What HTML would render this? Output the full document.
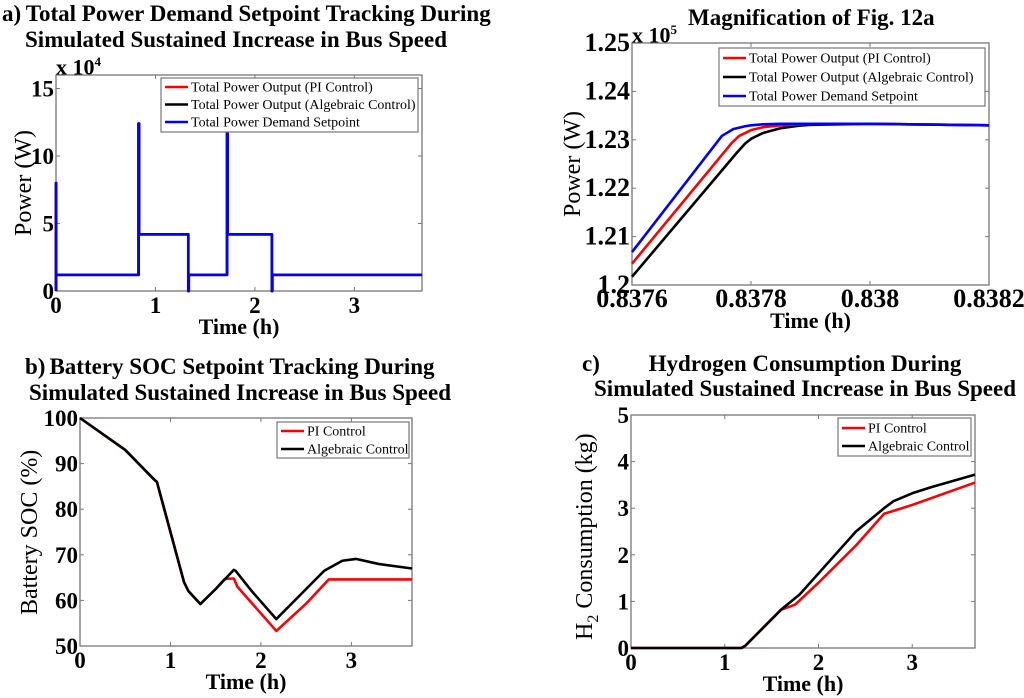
<!DOCTYPE html>
<html><head><meta charset="utf-8">
<style>
html,body{margin:0;padding:0;background:#fff;}
body{position:relative;width:1024px;height:698px;overflow:hidden;font-family:"Liberation Serif","Times New Roman",Times,serif;}
svg{display:block;position:absolute;left:0;top:0;}
svg text{font-family:"Liberation Serif","Times New Roman",Times,serif;}
.b{font-weight:bold;fill:#000;}
.t{font-size:22px;}
.tk{font-size:23px;}
.tkm{font-size:26px;}
.lg{font-size:14px;fill:#000;}
.h{position:absolute;font-weight:bold;font-size:23px;white-space:nowrap;line-height:1;color:#000;}
.ya{position:absolute;font-size:24px;white-space:nowrap;line-height:1;transform-origin:0 0;transform:rotate(-90deg);}
</style></head>
<body>
<svg id="s" width="1024" height="698" viewBox="0 0 1024 698" xmlns="http://www.w3.org/2000/svg"></svg>
<script>
// Panel a: power step
const aT=[0,0,0.001,0.001,0.83,0.83,0.835,0.835,1.33,1.33,1.335,1.335,1.72,1.72,1.725,1.725,2.17,2.17,2.175,2.175,3.68];
const aV=[0,8,8,1.2,1.2,12.4,12.4,4.2,4.2,0,0,1.2,1.2,11.8,11.8,4.2,4.2,0,0,1.2,1.2];
const aTicksX=[0,1,2,3];const aTicksY=[0,5,10,15];
// Panel mag
const mBlueT=[0.8376,0.837751,0.83777,0.83779,0.8378,0.83782,0.83785,0.8379,0.838,0.8382];
const mBlueV=[1.2068,1.2308,1.2322,1.2328,1.2330,1.2332,1.2333,1.2333,1.2333,1.2330];
const mRedT=[0.8376,0.837768,0.83778,0.8378,0.83782,0.83785,0.8379,0.838,0.8382];
const mRedV=[1.2044,1.2294,1.2308,1.2320,1.2326,1.2330,1.2333,1.2333,1.2330];
const mBlackT=[0.8376,0.837776,0.83779,0.8378,0.83782,0.83785,0.83788,0.8379,0.838,0.8382];
const mBlackV=[1.2017,1.2273,1.2292,1.2302,1.2314,1.2324,1.2329,1.2331,1.2333,1.2330];
const mTicksX=[0.8376,0.8378,0.838,0.8382];const mTickLX=["0.8376","0.8378","0.838","0.8382"];
const mTicksY=[1.2,1.21,1.22,1.23,1.24,1.25];const mTickLY=["1.2","1.21","1.22","1.23","1.24","1.25"];
// Panel b: SOC
const bAlgT=[0,0.5,0.82,0.85,1.0,1.15,1.2,1.33,1.5,1.7,1.72,1.9,2.17,2.4,2.7,2.9,3.05,3.3,3.67];
const bAlgV=[100,93,86.5,86,75,64,62,59.2,62.5,66.7,66.5,62,55.9,60.5,66.5,68.7,69.1,68,67];
const bPIT=[0,0.5,0.82,0.85,1.0,1.15,1.2,1.33,1.5,1.6,1.7,1.74,2.17,2.5,2.75,3.67];
const bPIV=[100,93,86.5,86,75,64,62,59.2,62.5,64.7,64.8,63,53.3,59.3,64.6,64.6];
const bTicksX=[0,1,2,3];const bTicksY=[50,60,70,80,90,100];
// Panel c: H2
const cAlgT=[0,1.18,1.22,1.6,1.8,2.0,2.4,2.7,2.8,3.0,3.2,3.67];
const cAlgV=[0,0,0.05,0.82,1.15,1.6,2.5,3.0,3.15,3.32,3.45,3.72];
const cPIT=[0,1.18,1.22,1.6,1.75,2.0,2.4,2.7,3.0,3.67];
const cPIV=[0,0,0.05,0.82,0.93,1.4,2.2,2.88,3.07,3.55];
const cTicksX=[0,1,2,3];const cTicksY=[0,1,2,3,4,5];

const S=document.getElementById('s');const NS='http://www.w3.org/2000/svg';
const FF='Liberation Serif, Times New Roman, serif';
function el(tag,at,txt){const e=document.createElementNS(NS,tag);for(const k in at)e.setAttribute(k,at[k]);if(txt!==undefined)e.textContent=txt;S.appendChild(e);return e;}
function panel(p){
  const X=v=>p.x0+(v-p.xmin)/(p.xmax-p.xmin)*(p.x1-p.x0);
  const Y=v=>p.y1-(v-p.ymin)/(p.ymax-p.ymin)*(p.y1-p.y0);
  const tc='b '+(p.tc||'tk');
  const f=el('rect',{x:p.x0,y:p.y0,width:p.x1-p.x0,height:p.y1-p.y0,fill:'#fff',stroke:'#777','stroke-width':1.3});
  
  
  p.tx.forEach((v,i)=>{
    const x=X(v);
    el('line',{x1:x,x2:x,y1:p.y1,y2:p.y1-4,stroke:'#777'});
    el('line',{x1:x,x2:x,y1:p.y0,y2:p.y0+4,stroke:'#777'});
    const t=el('text',{x:x,y:p.y1+22,'text-anchor':'middle',class:tc,'font-family':FF},p.txl?p.txl[i]:String(v));
    
    
  });
  p.ty.forEach((v,i)=>{
    const y=Y(v);
    el('line',{x1:p.x0,x2:p.x0+4,y1:y,y2:y,stroke:'#777'});
    el('line',{x1:p.x1,x2:p.x1-4,y1:y,y2:y,stroke:'#777'});
    const t=el('text',{x:p.x0-2,y:y+8,'text-anchor':'end',class:tc,'font-family':FF},p.tyl?p.tyl[i]:String(v));
    
    
  });
  p.series.forEach(s=>{
    const d=s.t.map((t,i)=>(i?'L':'M')+X(t).toFixed(2)+','+Y(s.v[i]).toFixed(2)).join('');
    const l=el('path',{d:d,fill:'none',stroke:s.c,'stroke-width':2.6,'stroke-linejoin':'round'});
    
    
  });
  const L=p.leg;
  const lb=el('rect',{x:L.x,y:L.y,width:L.w,height:L.h,fill:'#fff',stroke:'#777','stroke-width':1.2});
  
  
  L.items.forEach((it,i)=>{
    const y=L.r0+i*L.dr;
    el('line',{x1:L.x+4,x2:L.x+27,y1:y,y2:y,stroke:it[1],'stroke-width':2.6});
    const t=el('text',{x:L.x+30,y:y+4.5,class:'lg'},it[0]);
    
    
  });
  const xl=el('text',{x:(p.x0+p.x1)/2,y:p.y1+43,'text-anchor':'middle',class:'b t','font-family':FF},'Time (h)');
  
  
}
const seriesA=[{t:aT,v:aV,c:'#ff0000',n:'pi'},{t:aT,v:aV,c:'#000',n:'algebraic'},{t:aT,v:aV,c:'#0000ff',n:'setpoint'}];
panel({id:'power',x0:56,x1:422,y0:75,y1:291,xmin:0,xmax:3.68,ymin:0,ymax:16,tx:aTicksX,ty:aTicksY,series:seriesA,
 leg:{x:161,y:78,w:257,h:54,r0:87,dr:17.5,items:[['Total Power Output (PI Control)','#ff0000'],['Total Power Output (Algebraic Control)','#000'],['Total Power Demand Setpoint','#0000ff']]}});
panel({id:'magnified',tc:'tkm',x0:632,x1:989,y0:43,y1:285,xmin:0.8376,xmax:0.8382,ymin:1.2,ymax:1.25,tx:mTicksX,txl:mTickLX,ty:mTicksY,tyl:mTickLY,
 series:[{t:mBlackT,v:mBlackV,c:'#000',n:'algebraic'},{t:mRedT,v:mRedV,c:'#ff0000',n:'pi'},{t:mBlueT,v:mBlueV,c:'#0000ff',n:'setpoint'}],
 leg:{x:719,y:48,w:266,h:58,r0:58,dr:19,items:[['Total Power Output (PI Control)','#ff0000'],['Total Power Output (Algebraic Control)','#000'],['Total Power Demand Setpoint','#0000ff']]}});
panel({id:'soc',x0:80,x1:412,y0:418,y1:646,xmin:0,xmax:3.67,ymin:50,ymax:100,tx:bTicksX,ty:bTicksY,
 series:[{t:bPIT,v:bPIV,c:'#ff0000',n:'pi'},{t:bAlgT,v:bAlgV,c:'#000',n:'algebraic'}],
 leg:{x:277,y:422,w:132,h:36,r0:431,dr:18,items:[['PI Control','#ff0000'],['Algebraic Control','#000']]}});
panel({id:'hydrogen',x0:631,x1:975,y0:415,y1:648,xmin:0,xmax:3.67,ymin:0,ymax:5,tx:cTicksX,ty:cTicksY,
 series:[{t:cPIT,v:cPIV,c:'#ff0000',n:'pi'},{t:cAlgT,v:cAlgV,c:'#000',n:'algebraic'}],
 leg:{x:838,y:418,w:133,h:38,r0:428,dr:18,items:[['PI Control','#ff0000'],['Algebraic Control','#000']]}});
</script>
<div class="h" style="left:2px;top:2px">a)&thinsp;Total Power Demand Setpoint Tracking During</div>
<div class="h" style="left:236px;top:28px;transform:translateX(-50%)">Simulated Sustained Increase in Bus Speed</div>
<div class="h" style="left:56px;top:55px;font-size:22px">x 10<sup style="font-size:13px">4</sup></div>
<div class="h" style="left:632px;top:23px;font-size:22px">x 10<sup style="font-size:13px">5</sup></div>
<div class="h" style="left:688px;top:6px">Magnification of Fig. 12a</div>
<div class="h" style="left:25px;top:355px">b)</div>
<div class="h" style="left:242px;top:355px;transform:translateX(-50%)">Battery SOC Setpoint Tracking During</div>
<div class="h" style="left:240px;top:381px;transform:translateX(-50%)">Simulated Sustained Increase in Bus Speed</div>
<div class="h" style="left:582px;top:352px">c)</div>
<div class="h" style="left:805px;top:352px;transform:translateX(-50%)">Hydrogen Consumption During</div>
<div class="h" style="left:805px;top:377px;transform:translateX(-50%)">Simulated Sustained Increase in Bus Speed</div>
<div class="ya" style="left:12px;top:236px">Power (W)</div>
<div class="ya" style="left:561px;top:217px">Power (W)</div>
<div class="ya" style="left:18px;top:615px">Battery SOC (%)</div>
<div class="ya" style="left:573px;top:640px">H<sub style="font-size:16px">2</sub> Consumption (kg)</div>
</body></html>
